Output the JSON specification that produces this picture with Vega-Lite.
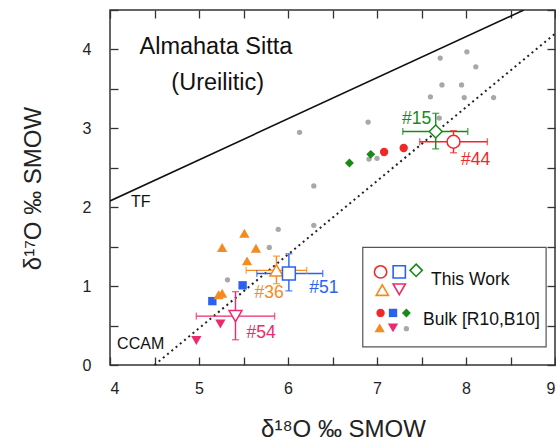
{
  "$schema": "https://vega.github.io/schema/vega-lite/v6.json",
  "width": 445,
  "height": 355,
  "autosize": {"type": "none"},
  "padding": {"left": 110, "top": 10, "right": 1, "bottom": 76},
  "background": "white",
  "config": {
    "view": {"stroke": "#333", "strokeWidth": 1.5},
    "font": "Liberation Sans",
    "text": {"font": "Liberation Sans"}
  },
  "resolve": {"axis": {"x": "independent", "y": "independent"}},
  "datasets": {
    "lines": [
      {"line": "TF", "x": 4, "y": 2.08},
      {"line": "TF", "x": 8.65, "y": 4.5},
      {"line": "CCAM", "x": 4.5, "y": 0},
      {"line": "CCAM", "x": 9, "y": 4.2}
    ],
    "bulk": [
      {"g": "other", "x": 8.01, "y": 3.97},
      {"g": "other", "x": 7.71, "y": 3.89},
      {"g": "other", "x": 8.11, "y": 3.78},
      {"g": "other", "x": 7.73, "y": 3.55},
      {"g": "other", "x": 7.95, "y": 3.55},
      {"g": "other", "x": 7.60, "y": 3.40},
      {"g": "other", "x": 7.98, "y": 3.39},
      {"g": "other", "x": 8.31, "y": 3.39},
      {"g": "other", "x": 7.70, "y": 3.13},
      {"g": "other", "x": 6.90, "y": 3.08},
      {"g": "other", "x": 6.13, "y": 2.95},
      {"g": "other", "x": 6.91, "y": 2.61},
      {"g": "other", "x": 7.00, "y": 2.62},
      {"g": "other", "x": 6.29, "y": 2.27},
      {"g": "other", "x": 5.89, "y": 1.72},
      {"g": "other", "x": 6.29, "y": 1.77},
      {"g": "other", "x": 5.79, "y": 1.49},
      {"g": "other", "x": 5.32, "y": 1.08},
      {"g": "#15", "x": 6.69, "y": 2.56},
      {"g": "#15", "x": 6.93, "y": 2.67},
      {"g": "#44", "x": 7.08, "y": 2.70},
      {"g": "#44", "x": 7.30, "y": 2.75},
      {"g": "#51", "x": 5.15, "y": 0.81},
      {"g": "#51", "x": 5.49, "y": 1.01},
      {"g": "#36", "x": 5.51, "y": 1.67},
      {"g": "#36", "x": 5.26, "y": 1.49},
      {"g": "#36", "x": 5.64, "y": 1.48},
      {"g": "#36", "x": 5.54, "y": 1.32},
      {"g": "#36", "x": 5.26, "y": 0.91},
      {"g": "#36", "x": 5.22, "y": 0.89},
      {"g": "#54", "x": 5.24, "y": 0.52},
      {"g": "#54", "x": 4.97, "y": 0.31}
    ],
    "work": [
      {"g": "#44", "x": 7.86, "y": 2.83, "xlo": 7.48, "xhi": 8.24, "ylo": 2.69, "yhi": 2.97},
      {"g": "#15", "x": 7.66, "y": 2.96, "xlo": 7.29, "xhi": 8.02, "ylo": 2.74, "yhi": 3.19},
      {"g": "#36", "x": 5.87, "y": 1.20, "xlo": 5.53, "xhi": 6.21, "ylo": 1.03, "yhi": 1.38},
      {"g": "#51", "x": 6.01, "y": 1.16, "xlo": 5.65, "xhi": 6.39, "ylo": 0.94, "yhi": 1.41},
      {"g": "#54", "x": 5.41, "y": 0.62, "xlo": 4.97, "xhi": 5.85, "ylo": 0.32, "yhi": 0.93}
    ],
    "ann": [
      {"g": "#15", "t": "#15", "x": 7.444, "y": 3.12},
      {"g": "#44", "t": "#44", "x": 8.107, "y": 2.60},
      {"g": "#36", "t": "#36", "x": 5.787, "y": 0.911},
      {"g": "#51", "t": "#51", "x": 6.404, "y": 0.975},
      {"g": "#54", "t": "#54", "x": 5.697, "y": 0.411}
    ],
    "titles": [
      {"t": "Almahata Sitta", "x": 5.19, "y": 4.03},
      {"t": "(Ureilitic)", "x": 5.21, "y": 3.58}
    ],
    "linelabels": [
      {"t": "TF", "x": 4.236, "y": 2.06},
      {"t": "CCAM", "x": 4.08, "y": 0.27}
    ],
    "legendbox": [
      {"x": 6.84, "x2": 8.90, "y": 1.49, "y2": 0.23}
    ],
    "legendsym": [
      {"kind": "open", "g": "#44", "x": 7.04, "y": 1.18},
      {"kind": "open", "g": "#51", "x": 7.25, "y": 1.18},
      {"kind": "open", "g": "#15", "x": 7.44, "y": 1.20},
      {"kind": "open", "g": "#36", "x": 7.06, "y": 0.95},
      {"kind": "open", "g": "#54", "x": 7.25, "y": 0.96},
      {"kind": "filled", "g": "#44", "x": 7.04, "y": 0.66},
      {"kind": "filled", "g": "#51", "x": 7.18, "y": 0.66},
      {"kind": "filled", "g": "#15", "x": 7.33, "y": 0.66},
      {"kind": "filled", "g": "#36", "x": 7.03, "y": 0.47},
      {"kind": "filled", "g": "#54", "x": 7.18, "y": 0.47},
      {"kind": "filled", "g": "other", "x": 7.33, "y": 0.46}
    ],
    "legendtext": [
      {"t": "This Work", "x": 7.607, "y": 1.076},
      {"t": "Bulk [R10,B10]", "x": 7.517, "y": 0.576}
    ]
  },
  "layer": [
    {
      "data": {"name": "lines"},
      "transform": [{"filter": "datum.line === 'TF'"}],
      "mark": {"type": "line", "color": "#111", "strokeWidth": 1.6, "clip": true},
      "encoding": {
        "x": {"field": "x", "type": "quantitative", "scale": {"domain": [4, 9], "nice": false, "zero": false},
          "axis": {"orient": "bottom", "values": [4, 4.5, 5, 5.5, 6, 6.5, 7, 7.5, 8, 8.5, 9],
            "labelExpr": "datum.value % 1 === 0 ? '' + datum.value : ''",
            "tickSize": -8, "tickWidth": 1.3, "tickColor": "#333", "domain": false, "grid": false,
            "labelFontSize": 16, "labelColor": "#222", "labelPadding": 23, "labelFont": "Liberation Sans",
            "title": "δ¹⁸O ‰ SMOW", "titleFontSize": 24, "titleFontWeight": "normal", "titleColor": "#222",
            "titleFont": "Liberation Sans", "titleX": 233, "titleY": 71, "titleAlign": "center", "titleBaseline": "alphabetic"}},
        "y": {"field": "y", "type": "quantitative", "scale": {"domain": [0, 4.5], "nice": false, "zero": false},
          "axis": {"orient": "left", "values": [0, 0.5, 1, 1.5, 2, 2.5, 3, 3.5, 4, 4.5],
            "labelExpr": "datum.value % 1 === 0 ? '' + datum.value : ''",
            "tickSize": -8, "tickWidth": 1.3, "tickColor": "#333", "domain": false, "grid": false,
            "labelFontSize": 16, "labelColor": "#222", "labelPadding": 27, "labelFont": "Liberation Sans",
            "title": "δ¹⁷O ‰ SMOW", "titleFontSize": 24, "titleFontWeight": "normal", "titleColor": "#222",
            "titleFont": "Liberation Sans", "titleX": -70, "titleY": 178, "titleAngle": -90, "titleAlign": "center", "titleBaseline": "alphabetic"}}
      }
    },
    {
      "data": {"name": "lines"},
      "transform": [{"filter": "datum.line === 'CCAM'"}],
      "mark": {"type": "line", "color": "#222", "strokeWidth": 2, "strokeDash": [2, 3.5], "clip": true},
      "encoding": {
        "x": {"field": "x", "type": "quantitative", "axis": null},
        "y": {"field": "y", "type": "quantitative", "axis": null}
      }
    },
    {
      "data": {"name": "bulk"},
      "mark": {"type": "point", "filled": true, "opacity": 1},
      "encoding": {
        "x": {"field": "x", "type": "quantitative", "axis": null},
        "y": {"field": "y", "type": "quantitative", "axis": null},
        "color": {"field": "g", "type": "nominal", "legend": null,
          "scale": {"domain": ["#44", "#51", "#15", "#36", "#54", "other"],
            "range": ["#f02828", "#2a62f0", "#178a17", "#f58a1f", "#ec2a6e", "#a8a8a8"]}},
        "shape": {"field": "g", "type": "nominal", "legend": null,
          "scale": {"domain": ["#44", "#51", "#15", "#36", "#54", "other"],
            "range": ["circle", "square", "diamond", "triangle-up", "triangle-down", "circle"]}},
        "size": {"field": "g", "type": "nominal", "legend": null,
          "scale": {"type": "ordinal", "domain": ["#44", "#51", "#15", "#36", "#54", "other"],
            "range": [70, 70, 80, 105, 105, 28]}}
      }
    },
    {
      "data": {"name": "work"},
      "mark": {"type": "rule", "strokeWidth": 1.4},
      "encoding": {
        "x": {"field": "xlo", "type": "quantitative", "axis": null},
        "x2": {"field": "xhi"},
        "y": {"field": "y", "type": "quantitative", "axis": null},
        "color": {"field": "g", "type": "nominal", "legend": null}
      }
    },
    {
      "data": {"name": "work"},
      "mark": {"type": "rule", "strokeWidth": 1.4},
      "encoding": {
        "x": {"field": "x", "type": "quantitative", "axis": null},
        "y": {"field": "ylo", "type": "quantitative", "axis": null},
        "y2": {"field": "yhi"},
        "color": {"field": "g", "type": "nominal", "legend": null}
      }
    },
    {
      "data": {"name": "work"},
      "transform": [{"fold": ["xlo", "xhi"], "as": ["end", "cx"]}],
      "mark": {"type": "tick", "orient": "vertical", "size": 7, "thickness": 1.4},
      "encoding": {
        "x": {"field": "cx", "type": "quantitative", "axis": null},
        "y": {"field": "y", "type": "quantitative", "axis": null},
        "color": {"field": "g", "type": "nominal", "legend": null}
      }
    },
    {
      "data": {"name": "work"},
      "transform": [{"fold": ["ylo", "yhi"], "as": ["end", "cy"]}],
      "mark": {"type": "tick", "orient": "horizontal", "size": 7, "thickness": 1.4},
      "encoding": {
        "x": {"field": "x", "type": "quantitative", "axis": null},
        "y": {"field": "cy", "type": "quantitative", "axis": null},
        "color": {"field": "g", "type": "nominal", "legend": null}
      }
    },
    {
      "data": {"name": "work"},
      "mark": {"type": "point", "filled": false, "fill": "white", "fillOpacity": 1, "size": 165, "strokeWidth": 1.5, "opacity": 1},
      "encoding": {
        "x": {"field": "x", "type": "quantitative", "axis": null},
        "y": {"field": "y", "type": "quantitative", "axis": null},
        "color": {"field": "g", "type": "nominal", "legend": null},
        "shape": {"field": "g", "type": "nominal", "legend": null}
      }
    },
    {
      "data": {"name": "ann"},
      "mark": {"type": "text", "fontSize": 17.5, "align": "center", "baseline": "middle"},
      "encoding": {
        "x": {"field": "x", "type": "quantitative", "axis": null},
        "y": {"field": "y", "type": "quantitative", "axis": null},
        "text": {"field": "t"},
        "color": {"field": "g", "type": "nominal", "legend": null}
      }
    },
    {
      "data": {"name": "titles"},
      "mark": {"type": "text", "fontSize": 23.5, "align": "center", "baseline": "middle", "color": "#111"},
      "encoding": {
        "x": {"field": "x", "type": "quantitative", "axis": null},
        "y": {"field": "y", "type": "quantitative", "axis": null},
        "text": {"field": "t"}
      }
    },
    {
      "data": {"name": "linelabels"},
      "mark": {"type": "text", "fontSize": 16, "align": "left", "baseline": "middle", "color": "#111"},
      "encoding": {
        "x": {"field": "x", "type": "quantitative", "axis": null},
        "y": {"field": "y", "type": "quantitative", "axis": null},
        "text": {"field": "t"}
      }
    },
    {
      "data": {"name": "legendbox"},
      "mark": {"type": "rect", "fill": "white", "stroke": "#555", "strokeWidth": 1.2},
      "encoding": {
        "x": {"field": "x", "type": "quantitative",
          "axis": {"orient": "top", "values": [4, 4.5, 5, 5.5, 6, 6.5, 7, 7.5, 8, 8.5, 9],
            "labels": false, "title": null, "tickSize": -8, "tickWidth": 1.3, "tickColor": "#333", "domain": false, "grid": false}},
        "x2": {"field": "x2"},
        "y": {"field": "y", "type": "quantitative",
          "axis": {"orient": "right", "values": [0, 0.5, 1, 1.5, 2, 2.5, 3, 3.5, 4, 4.5],
            "labels": false, "title": null, "tickSize": -8, "tickWidth": 1.3, "tickColor": "#333", "domain": false, "grid": false}},
        "y2": {"field": "y2"}
      }
    },
    {
      "data": {"name": "legendsym"},
      "transform": [{"filter": "datum.kind === 'open'"}],
      "mark": {"type": "point", "filled": false, "fill": "white", "size": 150, "strokeWidth": 1.6, "opacity": 1},
      "encoding": {
        "x": {"field": "x", "type": "quantitative", "axis": null},
        "y": {"field": "y", "type": "quantitative", "axis": null},
        "color": {"field": "g", "type": "nominal", "legend": null},
        "shape": {"field": "g", "type": "nominal", "legend": null}
      }
    },
    {
      "data": {"name": "legendsym"},
      "transform": [{"filter": "datum.kind === 'filled'"}],
      "mark": {"type": "point", "filled": true, "opacity": 1},
      "encoding": {
        "x": {"field": "x", "type": "quantitative", "axis": null},
        "y": {"field": "y", "type": "quantitative", "axis": null},
        "color": {"field": "g", "type": "nominal", "legend": null},
        "shape": {"field": "g", "type": "nominal", "legend": null},
        "size": {"field": "g", "type": "nominal", "legend": null,
          "scale": {"type": "ordinal", "domain": ["#44", "#51", "#15", "#36", "#54", "other"],
            "range": [70, 70, 80, 105, 105, 28]}}
      }
    },
    {
      "data": {"name": "legendtext"},
      "mark": {"type": "text", "fontSize": 17.5, "align": "left", "baseline": "middle", "color": "#111"},
      "encoding": {
        "x": {"field": "x", "type": "quantitative", "axis": null},
        "y": {"field": "y", "type": "quantitative", "axis": null},
        "text": {"field": "t"}
      }
    }
  ]
}
